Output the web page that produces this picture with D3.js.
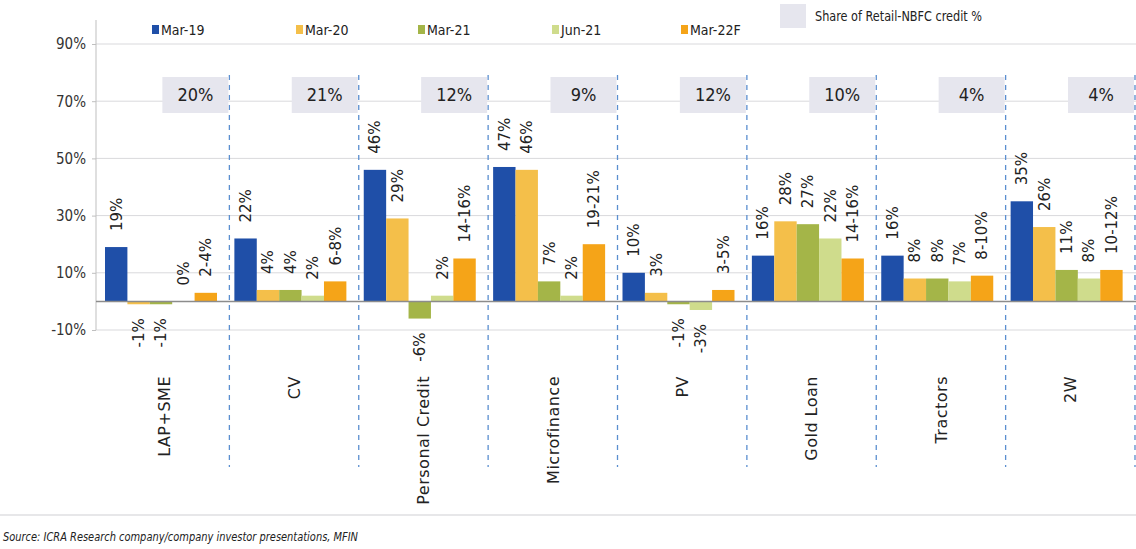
<!DOCTYPE html>
<html>
<head>
<meta charset="utf-8">
<script src="https://cdn.jsdelivr.net/npm/d3@7"></script>
<style>
  html, body { margin: 0; padding: 0; background: #ffffff; }
  svg { display: block; }
</style>
</head>
<body>
<svg id="chart" width="1136" height="549"></svg>
<script>
const categories = ["LAP+SME", "CV", "Personal Credit", "Microfinance", "PV", "Gold Loan", "Tractors", "2W"];
const seriesNames = ["Mar-19", "Mar-20", "Mar-21", "Jun-21", "Mar-22F"];
const mar19 = [19, 22, 46, 47, 10, 16, 16, 35];
const mar20 = [-1, 4, 29, 46, 3, 28, 8, 26];
const mar21 = [-1, 4, -6, 7, -1, 27, 8, 11];
const jun21 = [0, 2, 2, 2, -3, 22, 7, 8];
const mar22f = [3, 7, 15, 20, 4, 15, 9, 11];
const mar19Labels = ["19%", "22%", "46%", "47%", "10%", "16%", "16%", "35%"];
const mar20Labels = ["-1%", "4%", "29%", "46%", "3%", "28%", "8%", "26%"];
const mar21Labels = ["-1%", "4%", "-6%", "7%", "-1%", "27%", "8%", "11%"];
const jun21Labels = ["0%", "2%", "2%", "2%", "-3%", "22%", "7%", "8%"];
const mar22fLabels = ["2-4%", "6-8%", "14-16%", "19-21%", "3-5%", "14-16%", "8-10%", "10-12%"];
const shareLabels = ["20%", "21%", "12%", "9%", "12%", "10%", "4%", "4%"];
const yTicks = [-10, 10, 30, 50, 70, 90];
const colors = ["#1f4fa8", "#f4bf4a", "#a4b548", "#cfdc8c", "#f5a418"];
const shareLegendLabel = "Share of Retail-NBFC credit %";
const sourceText = "Source: ICRA Research company/company investor presentations, MFIN";

const seriesValues = [mar19, mar20, mar21, jun21, mar22f];
const seriesLabels = [mar19Labels, mar20Labels, mar21Labels, jun21Labels, mar22fLabels];

const narrow = "'Liberation Sans Narrow', 'DejaVu Sans Condensed', 'Arial Narrow', sans-serif";
const wide = "'DejaVu Sans', Verdana, sans-serif";

const svg = d3.select("#chart");

const x0 = d3.scaleBand().domain(categories).range([100, 1135]).paddingInner(0).paddingOuter(0);
const x1 = d3.scaleBand().domain(seriesNames).range([5, 117]).padding(0);
const y = d3.scaleLinear().domain([-10, 90]).range([330, 44]);

// gridlines
svg.append("g").selectAll("line").data(yTicks).join("line")
  .attr("x1", 96).attr("x2", 1136)
  .attr("y1", d => y(d)).attr("y2", d => y(d))
  .attr("stroke", "#d9d9dc").attr("stroke-width", 1);

// y axis
const yAxis = d3.axisLeft(y).tickValues(yTicks).tickSize(4).tickFormat(d => d + "%");
const gy = svg.append("g").attr("transform", "translate(96,0)").call(yAxis);
gy.select(".domain").remove();
gy.selectAll(".tick line").attr("stroke", "#bfbfbf");
gy.selectAll(".tick text").attr("x", -10).attr("fill", "#333")
  .style("font-family", narrow).style("font-size", "15px");
svg.append("line").attr("x1", 96).attr("x2", 96).attr("y1", 20).attr("y2", y(-10))
  .attr("stroke", "#bfbfbf").attr("stroke-width", 1);

// dashed separators
svg.append("g").selectAll("line").data(categories).join("line")
  .attr("x1", d => x0(d) + x0.bandwidth()).attr("x2", d => x0(d) + x0.bandwidth())
  .attr("y1", 75).attr("y2", 467)
  .attr("stroke", "#5b8fd0").attr("stroke-width", 1.3).attr("stroke-dasharray", "5,5");

// share boxes
const boxes = svg.append("g").selectAll("g").data(categories).join("g")
  .attr("transform", d => `translate(${x0(d) + x0.bandwidth() - 67},77)`);
boxes.append("rect").attr("width", 66).attr("height", 36).attr("fill", "#e6e6ee");
boxes.append("text").attr("x", 33).attr("y", 18).attr("dy", "0.36em")
  .attr("text-anchor", "middle").attr("fill", "#222")
  .style("font-family", narrow).style("font-size", "18px")
  .text((d, i) => shareLabels[i]);

// bars
const groups = svg.append("g").selectAll("g").data(categories).join("g")
  .attr("transform", d => `translate(${x0(d)},0)`);

seriesNames.forEach((s, si) => {
  groups.append("rect")
    .attr("x", x1(s))
    .attr("width", x1.bandwidth())
    .attr("y", (d, i) => y(Math.max(0, seriesValues[si][i])))
    .attr("height", (d, i) => Math.abs(y(seriesValues[si][i]) - y(0)))
    .attr("fill", colors[si]);
});

// zero line
svg.append("line").attr("x1", 96).attr("x2", 1136).attr("y1", y(0)).attr("y2", y(0))
  .attr("stroke", "#8c8c8c").attr("stroke-width", 1.5);

// data labels
seriesNames.forEach((s, si) => {
  groups.append("text")
    .attr("transform", (d, i) => {
      const v = seriesValues[si][i];
      const cx = x1(s) + x1.bandwidth() / 2;
      const yy = v >= 0 ? y(v) - 16 : y(v) + 14;
      return `translate(${cx},${yy}) rotate(-90)`;
    })
    .attr("text-anchor", (d, i) => seriesValues[si][i] >= 0 ? "start" : "end")
    .attr("dy", "0.36em")
    .attr("fill", "#222")
    .style("font-family", wide).style("font-size", "15px")
    .text((d, i) => seriesLabels[si][i]);
});

// category labels
svg.append("g").selectAll("text").data(categories).join("text")
  .attr("transform", d => `translate(${x0(d) + x0.bandwidth() / 2},376) rotate(-90)`)
  .attr("text-anchor", "end").attr("dy", "0.36em")
  .attr("fill", "#222")
  .style("font-family", wide).style("font-size", "16px").style("letter-spacing", "0.5px")
  .text(d => d);

// legend
const legendX = [152, 296, 418, 552, 681];
const leg = svg.append("g").selectAll("g").data(seriesNames).join("g")
  .attr("transform", (d, i) => `translate(${legendX[i]},30)`);
leg.append("rect").attr("x", 0).attr("y", -5).attr("width", 7).attr("height", 9)
  .attr("fill", (d, i) => colors[i]);
leg.append("text").attr("x", 9).attr("y", 0).attr("dy", "0.36em")
  .attr("fill", "#222").style("font-family", narrow).style("font-size", "14px")
  .text(d => d);
svg.append("rect").attr("x", 780).attr("y", 4).attr("width", 26).attr("height", 24).attr("fill", "#e6e6ee");
svg.append("text").attr("x", 815).attr("y", 20).attr("dy", "0.1em")
  .attr("fill", "#222").style("font-family", narrow).style("font-size", "14px")
  .attr("textLength", 167).attr("lengthAdjust", "spacingAndGlyphs")
  .text(shareLegendLabel);

// bottom rule and source
svg.append("line").attr("x1", 0).attr("x2", 1136).attr("y1", 515).attr("y2", 515)
  .attr("stroke", "#d0d0d4").attr("stroke-width", 1.2);
svg.append("text").attr("x", 3).attr("y", 541)
  .attr("fill", "#222").style("font-family", narrow).style("font-size", "13px").style("font-style", "italic")
  .attr("textLength", 355).attr("lengthAdjust", "spacingAndGlyphs")
  .text(sourceText);
</script>
</body>
</html>
